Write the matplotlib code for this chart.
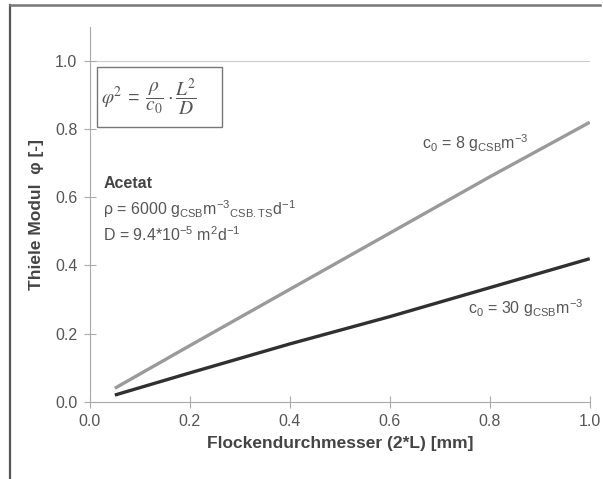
import numpy as np
from matplotlib import pyplot as plt
from matplotlib.lines import Line2D
from matplotlib.patches import Rectangle

plt.rcParams['font.family'] = ['Liberation Sans', 'DejaVu Sans']
plt.rcParams['mathtext.fontset'] = 'custom'
plt.rcParams['mathtext.rm'] = 'Liberation Sans'
plt.rcParams['mathtext.it'] = 'Liberation Sans:italic'
plt.rcParams['mathtext.default'] = 'regular'

# data
d = [0.05, 0.2, 0.4, 0.6, 0.8, 1.0]
phi_c8 = [0.04, 0.165, 0.33, 0.495, 0.66, 0.82]
phi_c30 = [0.02, 0.085, 0.17, 0.25, 0.335, 0.42]

xticks = [0.0, 0.2, 0.4, 0.6, 0.8, 1.0]
yticks = [0.0, 0.2, 0.4, 0.6, 0.8, 1.0]

fig = plt.figure(figsize=(6.03, 4.79), dpi=100)
ax = fig.add_axes([0.149, 0.161, 0.829, 0.783])

ax.axhline(1.0, color='#cccccc', lw=0.8, zorder=0)
ax.plot(d, phi_c8, color='#9a9a9a', lw=2.4, solid_capstyle='butt')
ax.plot(d, phi_c30, color='#303030', lw=2.4, solid_capstyle='butt')

ax.set_xlim(0, 1.0)
ax.set_ylim(0, 1.1)
ax.set_xticks(xticks)
ax.set_yticks(yticks)
ax.set_xticklabels(['%.1f' % v for v in xticks])
ax.set_yticklabels(['%.1f' % v for v in yticks])
for s in ['top', 'right']:
    ax.spines[s].set_visible(False)
for s in ['left', 'bottom']:
    ax.spines[s].set_color('#aaaaaa')
    ax.spines[s].set_linewidth(0.8)
ax.tick_params(direction='inout', length=8, width=0.8, color='#aaaaaa',
               labelcolor='#555555', labelsize=11.5)
ax.tick_params(axis='x', pad=5)
ax.tick_params(axis='y', pad=5)
ax.set_xlabel('Flockendurchmesser (2*L) [mm]', fontsize=12.5, fontweight='bold',
              color='#444444', labelpad=5)
ax.set_ylabel('Thiele Modul  φ [-]', fontsize=12.5, fontweight='bold',
              color='#444444', labelpad=8)

# formula box
ax.add_patch(Rectangle((0.014, 0.733), 0.25, 0.16, transform=ax.transAxes,
                       fill=False, edgecolor='#777777', lw=1.0))
ax.text(0.022, 0.813,
        r'$\mathit{\varphi}^{\mathrm{2}} \;=\; \dfrac{\mathit{\rho}}{\mathit{c}_{\mathrm{0}}}'
        r' \cdot \dfrac{\mathit{L}^{\mathrm{2}}}{\mathit{D}}$',
        transform=ax.transAxes, fontsize=14, color='#555555', va='center',
        math_fontfamily='stix')

ax.text(0.027, 0.581, 'Acetat', transform=ax.transAxes, fontsize=11.5,
        fontweight='bold', color='#444444', va='center')
ax.text(0.027, 0.515, 'ρ = 6000 g$_{CSB}$m$^{-3}$$_{CSB.TS}$d$^{-1}$',
        transform=ax.transAxes, fontsize=11.5, color='#555555', va='center')
ax.text(0.027, 0.445, 'D = 9.4*10$^{-5}$ m$^2$d$^{-1}$',
        transform=ax.transAxes, fontsize=11.5, color='#555555', va='center')

ax.text(0.664, 0.69, 'c$_0$ = 8 g$_{CSB}$m$^{-3}$', transform=ax.transAxes,
        fontsize=11.5, color='#555555', va='center')
ax.text(0.756, 0.25, 'c$_0$ = 30 g$_{CSB}$m$^{-3}$', transform=ax.transAxes,
        fontsize=11.5, color='#555555', va='center')

# frame lines of the scanned figure (left and top)
fig.add_artist(Line2D([0.016, 0.016], [0.0, 0.99], transform=fig.transFigure,
                      color='#555555', lw=1.6))
fig.add_artist(Line2D([0.016, 0.995], [0.99, 0.99], transform=fig.transFigure,
                      color='#777777', lw=1.8))

fig.savefig('out.png', dpi=100)
